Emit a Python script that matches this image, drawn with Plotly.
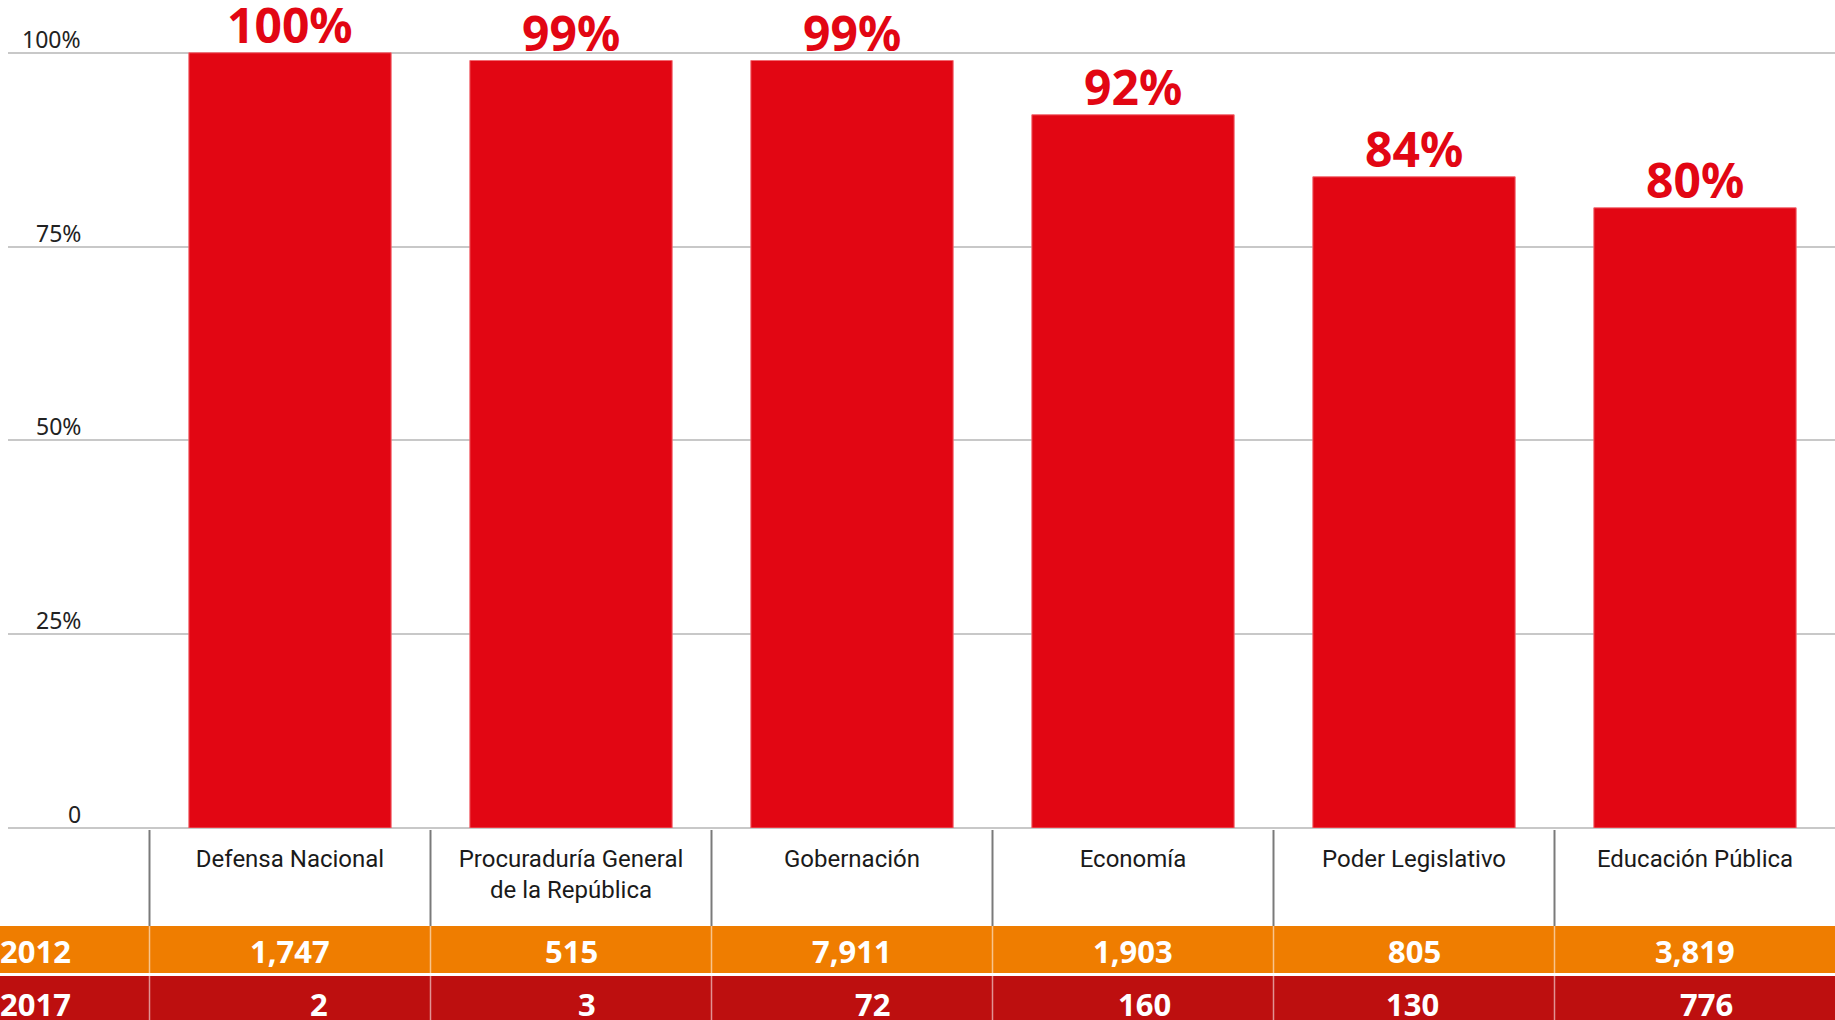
import plotly.graph_objects as go

# ---------------- data ----------------
categories = ["Defensa Nacional", "Procuraduría General<br>de la República", "Gobernación",
              "Economía", "Poder Legislativo", "Educación Pública"]
pct_values = [100, 99, 99, 92, 84, 80]
row_years = ["2012", "2017"]
values_2012 = ["1,747", "515", "7,911", "1,903", "805", "3,819"]
values_2017 = ["2", "3", "72", "160", "130", "776"]
y_tickvals = [0, 25, 50, 75, 100]
y_ticktext = ["0", "25%", "50%", "75%", "100%"]

# ---------------- styles ----------------
W, H = 1835, 1020
Y0_PX, Y100_PX = 828, 53          # pixel rows of 0 and 100
Y_TOP = 101                        # axis top (slightly above 100 so its gridline shows)
PX_PER_UNIT = (Y0_PX - Y100_PX) / 100
ML, MR = 8, 0
MB = H - Y0_PX
MT = Y0_PX - PX_PER_UNIT * Y_TOP
PH = H - MT - MB
PW = W - ML - MR
BAR_RED = "#E20613"
ORANGE = "#EF7D00"
DARK_RED = "#BD0F0F"
GRID = "#C8C8C8"
NUM_FONT = "Noto Sans"
COND_FONT = "Roboto, sans-serif"
CAT_STEP = 281.0          # px per category
FIRST_CENTER = 290.0      # px of first category centre


def py(p):
    """pixel y (from top of page) -> paper y"""
    return (H - MB - p) / PH


def px(p):
    """pixel x (from left of page) -> paper x"""
    return (p - ML) / PW


x_lo = -(FIRST_CENTER - ML) / CAT_STEP
x_hi = (W - MR - FIRST_CENTER) / CAT_STEP

fig = go.Figure()
fig.add_trace(go.Bar(
    x=categories, y=pct_values, width=0.72,
    marker=dict(color=BAR_RED, line=dict(color="#F26A72", width=1)),
    hoverinfo="skip", showlegend=False,
))

annotations = []
# value labels above bars
for c, v in zip(categories, pct_values):
    annotations.append(dict(
        x=c, y=v, xref="x", yref="y", text=f"{v}%", showarrow=False,
        yanchor="bottom", xanchor="center", yshift=-6,
        font=dict(family=NUM_FONT, size=48, color=BAR_RED, weight="bold"),
    ))

# y tick labels (above gridlines, right aligned)
for tv, tt in zip(y_tickvals, y_ticktext):
    annotations.append(dict(
        x=px(83), y=tv, xref="paper", yref="y", text=tt, showarrow=False,
        xanchor="right", yanchor="bottom", yshift=-4,
        font=dict(family=NUM_FONT, size=23, color="#222222"),
    ))

shapes = []
# table rows
row_top = [926, 976]
row_bot = [973, 1024]
row_colors = [ORANGE, DARK_RED]
for yt, yb, col in zip(row_top, row_bot, row_colors):
    shapes.append(dict(type="rect", xref="paper", yref="paper",
                       x0=px(0), x1=px(W), y0=py(yb), y1=py(yt),
                       fillcolor=col, line=dict(width=0), layer="above"))

# column dividers
for i in range(len(categories)):
    shapes.append(dict(type="line", xref="x", yref="paper",
                       x0=i - 0.5, x1=i - 0.5, y0=py(926), y1=py(830),
                       line=dict(color="#7A7A7A", width=2), layer="above"))
    shapes.append(dict(type="line", xref="x", yref="paper",
                       x0=i - 0.5, x1=i - 0.5, y0=py(1020), y1=py(926),
                       line=dict(color="rgba(255,255,255,0.55)", width=1.5), layer="above"))

# row labels and values
row_vals = [values_2012, values_2017]
row_centers = [951, 1004]
VAL_FS = 31


def est_width(s, fs):
    return sum(0.27 if ch == "," else 0.572 for ch in s) * fs


for yr, vals, yc in zip(row_years, row_vals, row_centers):
    annotations.append(dict(
        x=px(-2), y=py(yc), xref="paper", yref="paper", text=yr, showarrow=False,
        xanchor="left", yanchor="middle",
        font=dict(family=NUM_FONT, size=VAL_FS, color="white", weight="bold"),
    ))
for i, c in enumerate(categories):
    half = est_width(values_2012[i], VAL_FS) / 2
    annotations.append(dict(
        x=c, y=py(row_centers[0]), xref="x", yref="paper", text=values_2012[i],
        showarrow=False, xanchor="center", yanchor="middle",
        font=dict(family=NUM_FONT, size=VAL_FS, color="white", weight="bold"),
    ))
    annotations.append(dict(
        x=c, y=py(row_centers[1]), xref="x", yref="paper", text=values_2017[i],
        showarrow=False, xanchor="right", yanchor="middle", xshift=half,
        font=dict(family=NUM_FONT, size=VAL_FS, color="white", weight="bold"),
    ))

fig.update_layout(
    width=W, height=H,
    margin=dict(l=ML, r=MR, t=MT, b=MB, pad=0),
    paper_bgcolor="white", plot_bgcolor="white",
    xaxis=dict(
        range=[x_lo, x_hi], showgrid=False, zeroline=False, showline=False,
        ticks="", ticklabelstandoff=14,
        tickfont=dict(family=COND_FONT, size=24, color="#1A1A1A"),
    ),
    yaxis=dict(
        range=[0, Y_TOP], tickvals=y_tickvals, showticklabels=False,
        showgrid=True, gridcolor=GRID, gridwidth=2,
        zeroline=True, zerolinecolor=GRID, zerolinewidth=2, showline=False,
    ),
    annotations=annotations,
    shapes=shapes,
)

fig.write_html(
    "out.html",
    config={"displayModeBar": False},
    post_script="document.body.style.margin='0';document.body.style.overflow='hidden';",
)
